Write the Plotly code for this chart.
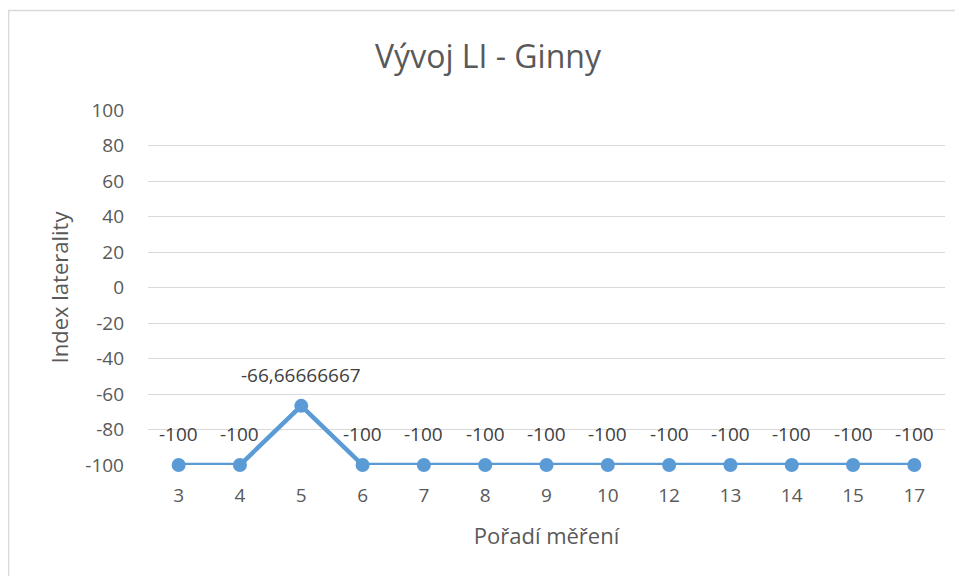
import plotly.graph_objects as go

categories = ["3", "4", "5", "6", "7", "8", "9", "10", "12", "13", "14", "15", "17"]
values = [-100, -100, -66.66666667, -100, -100, -100, -100, -100, -100, -100, -100, -100, -100]
labels = ["-100", "-100", "-66,66666667", "-100", "-100", "-100", "-100", "-100", "-100", "-100", "-100", "-100", "-100"]
y_ticks = [100, 80, 60, 40, 20, 0, -20, -40, -60, -80, -100]

# page has an 8px body margin, so the figure is drawn slightly smaller
W, H = 955, 568
L, R, T, B = 140, 18, 102, 111

font = "Open Sans"
txt = "#595959"
blue = "#5B9BD5"

fig = go.Figure()
fig.add_trace(go.Scatter(
    x=categories, y=values, mode="lines+markers",
    line=dict(color=blue, width=4.5),
    marker=dict(color=blue, size=14),
    cliponaxis=False, hoverinfo="skip",
))

# data labels: category axes take the category index as annotation position
annotations = [
    dict(x=i, y=v, text=t, xref="x", yref="y", showarrow=False, yshift=31,
         font=dict(family=font, size=19, color="#404040"))
    for i, (v, t) in enumerate(zip(values, labels))
]

fig.update_layout(
    width=W, height=H,
    margin=dict(l=L, r=R, t=T, b=B),
    paper_bgcolor="white", plot_bgcolor="white",
    showlegend=False,
    annotations=annotations,
    title=dict(text="Vývoj LI - Ginny", x=480 / W, xanchor="center",
               y=1 - 49 / H, yanchor="middle",
               font=dict(family=font, size=32, color=txt)),
    xaxis=dict(type="category", range=[-0.5, len(categories) - 0.5],
               showgrid=False, zeroline=False, showline=False,
               ticks="", tickfont=dict(family=font, size=19, color=txt),
               ticklabelstandoff=17,
               title=dict(text="Pořadí měření", font=dict(family=font, size=22, color=txt),
                          standoff=21)),
    yaxis=dict(range=[-100, 100], tickvals=y_ticks, ticktext=[str(v) for v in y_ticks],
               showgrid=True, gridcolor="#D9D9D9", gridwidth=1.3,
               zeroline=False, showline=False, ticks="",
               tickfont=dict(family=font, size=19, color=txt),
               ticklabelstandoff=23,
               title=dict(text="Index laterality", font=dict(family=font, size=22, color=txt),
                          standoff=10)),
    shapes=[dict(type="rect", xref="paper", yref="paper",
                 x0=(0.7 - L) / (W - L - R), x1=(W + 20 - L) / (W - L - R),
                 y0=(H - B - (H + 20)) / (H - T - B), y1=(H - B - 2.5) / (H - T - B),
                 line=dict(color="#D9D9D9", width=1.3), fillcolor="rgba(0,0,0,0)", layer="below")],
)

fig.write_html("out.html")
